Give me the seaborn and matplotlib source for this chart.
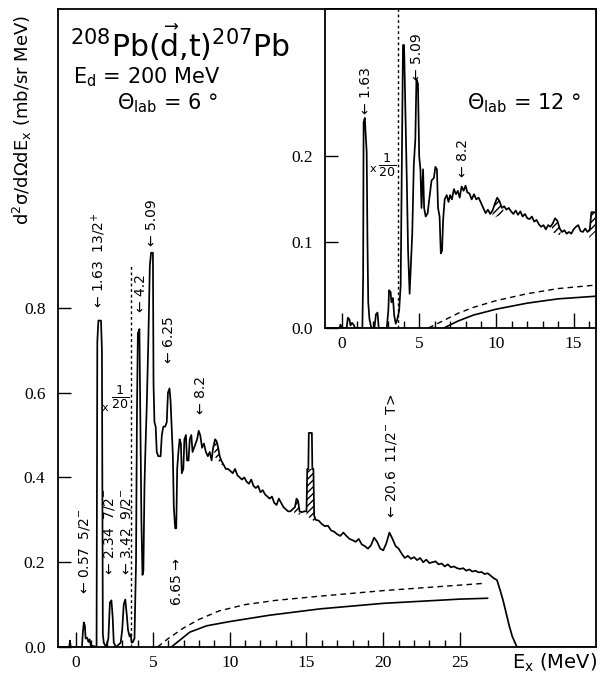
import numpy as np
import matplotlib
matplotlib.use("Agg")
import matplotlib.pyplot as plt
import seaborn as sns

# ---------------- data ----------------
# main spectrum, theta_lab = 6 deg  (E_x in MeV, d2sigma in mb/sr MeV; left of 3.6 MeV scaled x1/20)
main_ex = [-1.2, -0.45, -0.4, -0.35, 0.38, 0.43, 0.5, 0.57, 0.62, 0.72, 0.8, 0.88, 0.95, 1.33, 1.38, 1.45,
           1.62, 1.68, 1.74, 1.8, 1.95, 2.1, 2.2, 2.3, 2.38, 2.45, 2.6, 2.9, 3.0, 3.1, 3.2, 3.3, 3.38, 3.48,
           3.55, 3.62, 3.7, 3.8, 3.9, 3.96, 4.02, 4.12, 4.18, 4.25, 4.32, 4.38, 4.45, 4.5, 4.6, 4.7, 4.8,
           4.88, 5.0, 5.04, 5.1, 5.18, 5.25, 5.35, 5.5, 5.58, 5.68, 5.8, 5.9, 5.98, 6.08, 6.15, 6.22, 6.3,
           6.36, 6.45, 6.52, 6.58, 6.66, 6.74, 6.82, 6.88, 6.98, 7.05, 7.15, 7.22, 7.32, 7.4, 7.5, 7.58,
           7.68, 7.78, 7.88, 7.98, 8.08, 8.2, 8.32, 8.45, 8.58, 8.7, 8.82, 8.92, 9.05, 9.15, 9.25, 9.35,
           9.45, 9.6, 9.75, 9.9, 10.05, 10.2, 10.35, 10.5, 10.65, 10.8, 10.95, 11.1, 11.25, 11.4, 11.55,
           11.7, 11.85, 12.0, 12.15, 12.3, 12.45, 12.6, 12.75, 12.9, 13.05, 13.2, 13.35, 13.5, 13.65, 13.8,
           13.95, 14.1, 14.25, 14.35, 14.45, 14.55, 14.7, 14.85, 15.0, 15.05, 15.12, 15.15, 15.35, 15.38,
           15.45, 15.5, 15.6, 15.8, 16.0, 16.2, 16.4, 16.6, 16.8, 17.0, 17.2, 17.4, 17.6, 17.8, 18.0, 18.2,
           18.4, 18.6, 18.8, 19.0, 19.2, 19.4, 19.6, 19.8, 20.0, 20.2, 20.4, 20.6, 20.8, 21.0, 21.2, 21.4,
           21.6, 21.8, 22.0, 22.2, 22.4, 22.6, 22.8, 23.0, 23.2, 23.4, 23.6, 23.8, 24.0, 24.2, 24.4, 24.6,
           24.8, 25.0, 25.2, 25.4, 25.6, 25.8, 26.0, 26.2, 26.4, 26.6, 26.8, 27.0, 27.2, 27.4, 27.6, 27.8,
           28.0, 28.2, 28.4, 28.6, 28.7, 34.0]
main_xs = [0.0, 0.0, 0.015, 0.0, 0.0, 0.03, 0.058, 0.05, 0.02, 0.022, 0.012, 0.018, 0.004, 0.0, 0.72, 0.77,
           0.77, 0.7, 0.03, 0.01, 0.0, 0.02, 0.105, 0.11, 0.07, 0.01, 0.0, 0.01, 0.04, 0.1, 0.112, 0.075, 0.04,
           0.025, 0.03, 0.01, 0.012, 0.02, 0.2, 0.55, 0.74, 0.75, 0.55, 0.3, 0.17, 0.18, 0.38, 0.45, 0.57,
           0.72, 0.9, 0.93, 0.93, 0.62, 0.53, 0.52, 0.46, 0.45, 0.45, 0.5, 0.52, 0.52, 0.53, 0.6, 0.61, 0.58,
           0.52, 0.45, 0.33, 0.28, 0.28, 0.42, 0.46, 0.49, 0.48, 0.41, 0.42, 0.49, 0.5, 0.44, 0.44, 0.49,
           0.5, 0.46, 0.47, 0.48, 0.49, 0.51, 0.5, 0.47, 0.48, 0.46, 0.45, 0.46, 0.44, 0.47, 0.49, 0.485,
           0.47, 0.45, 0.44, 0.43, 0.42, 0.42, 0.415, 0.41, 0.42, 0.405, 0.4, 0.395, 0.4, 0.39, 0.385, 0.395,
           0.38, 0.375, 0.38, 0.365, 0.37, 0.36, 0.355, 0.35, 0.355, 0.34, 0.335, 0.35, 0.34, 0.33, 0.325,
           0.32, 0.32, 0.325, 0.33, 0.35, 0.345, 0.32, 0.318, 0.32, 0.32, 0.42, 0.42, 0.505, 0.505, 0.42,
           0.42, 0.31, 0.3, 0.298, 0.29, 0.285, 0.286, 0.275, 0.272, 0.266, 0.262, 0.27, 0.262, 0.255, 0.252,
           0.248, 0.255, 0.242, 0.238, 0.232, 0.24, 0.258, 0.248, 0.232, 0.228, 0.245, 0.27, 0.255, 0.238,
           0.232, 0.22, 0.21, 0.215, 0.208, 0.212, 0.205, 0.21, 0.2, 0.206, 0.198, 0.2, 0.202, 0.195, 0.197,
           0.19, 0.195, 0.188, 0.19, 0.186, 0.184, 0.186, 0.18, 0.183, 0.178, 0.18, 0.176, 0.177, 0.172,
           0.174, 0.168, 0.162, 0.158, 0.135, 0.11, 0.08, 0.05, 0.025, 0.008, 0.0, 0.0]

# background estimates (main)
main_bg_dash_ex = [5.3, 6.0, 7.0, 8.0, 9.3, 11.0, 13.0, 15.9, 20.0, 25.0, 26.5]
main_bg_dash = [0.0, 0.02, 0.045, 0.065, 0.085, 0.1, 0.11, 0.12, 0.133, 0.146, 0.15]
main_bg_solid_ex = [6.2, 7.4, 8.5, 10.0, 12.6, 15.9, 20.0, 25.0, 26.8]
main_bg_solid = [0.0, 0.035, 0.05, 0.06, 0.075, 0.09, 0.103, 0.113, 0.115]

# inset spectrum, theta_lab = 12 deg
inset_ex = [-1.1, -0.15, -0.1, 0.0, 0.3, 0.38, 0.48, 0.55, 0.65, 0.75, 0.85, 1.32, 1.37, 1.4, 1.48, 1.52,
            1.6, 1.65, 1.7, 1.78, 1.9, 2.1, 2.2, 2.3, 2.38, 2.9, 3.0, 3.05, 3.15, 3.2, 3.3, 3.38, 3.48, 3.58,
            3.7, 3.8, 3.88, 3.95, 4.02, 4.1, 4.2, 4.28, 4.38, 4.45, 4.55, 4.65, 4.75, 4.82, 4.92, 5.0, 5.08,
            5.15, 5.25, 5.32, 5.42, 5.55, 5.65, 5.8, 5.95, 6.05, 6.15, 6.22, 6.32, 6.4, 6.48, 6.55, 6.65,
            6.78, 6.9, 7.0, 7.12, 7.25, 7.38, 7.5, 7.62, 7.75, 7.88, 8.0, 8.12, 8.25, 8.4, 8.55, 8.7, 8.85,
            9.0, 9.15, 9.3, 9.45, 9.6, 9.75, 9.9, 10.05, 10.2, 10.35, 10.5, 10.65, 10.8, 10.95, 11.1, 11.25,
            11.4, 11.55, 11.7, 11.85, 12.0, 12.15, 12.3, 12.45, 12.6, 12.75, 12.9, 13.05, 13.2, 13.35, 13.5,
            13.65, 13.8, 13.95, 14.1, 14.25, 14.4, 14.55, 14.7, 14.85, 15.0, 15.15, 15.3, 15.45, 15.6, 15.75,
            15.9, 16.05, 16.15, 16.4]
inset_xs = [0.0, 0.0, 0.004, 0.0, 0.0, 0.012, 0.01, 0.003, 0.006, 0.004, 0.0, 0.0, 0.06, 0.24, 0.245, 0.23,
            0.205, 0.1, 0.03, 0.01, 0.0, 0.0, 0.016, 0.018, 0.0, 0.0, 0.02, 0.044, 0.042, 0.03, 0.035, 0.015,
            0.005, 0.01, 0.02, 0.05, 0.2, 0.33, 0.33, 0.26, 0.17, 0.09, 0.04, 0.07, 0.11, 0.19, 0.22, 0.29,
            0.285, 0.2, 0.185, 0.14, 0.185, 0.14, 0.13, 0.134, 0.15, 0.172, 0.175, 0.188, 0.185, 0.14, 0.13,
            0.087, 0.09, 0.126, 0.15, 0.155, 0.147, 0.155, 0.15, 0.162, 0.156, 0.16, 0.152, 0.165, 0.16, 0.166,
            0.158, 0.157, 0.15, 0.156, 0.15, 0.152, 0.146, 0.14, 0.134, 0.138, 0.133, 0.137, 0.145, 0.152,
            0.148, 0.14, 0.142, 0.138, 0.14, 0.136, 0.133, 0.137, 0.132, 0.136, 0.13, 0.133, 0.128, 0.127,
            0.13, 0.124, 0.126, 0.121, 0.118, 0.12, 0.115, 0.12, 0.118, 0.122, 0.128, 0.125, 0.116, 0.112,
            0.114, 0.11, 0.112, 0.11, 0.115, 0.118, 0.12, 0.113, 0.112, 0.116, 0.112, 0.115, 0.135, 0.135]

inset_bg_dash_ex = [5.6, 6.5, 7.5, 8.5, 10.0, 12.0, 14.0, 16.4]
inset_bg_dash = [0.0, 0.008, 0.017, 0.024, 0.032, 0.04, 0.046, 0.05]
inset_bg_solid_ex = [6.6, 7.5, 8.5, 10.0, 12.0, 14.0, 16.4]
inset_bg_solid = [0.0, 0.008, 0.015, 0.022, 0.029, 0.034, 0.037]

# hatched contaminant regions: (E_start, E_end, base_start, base_end, cap)
main_hatch = [(9.0, 9.6, 0.45, 0.425, 1.0), (14.2, 14.6, 0.315, 0.312, 1.0), (15.0, 15.55, 0.31, 0.295, 0.42)]
inset_hatch = [(9.75, 10.45, 0.128, 0.133, 1.0), (13.6, 14.15, 0.112, 0.108, 1.0), (16.0, 16.4, 0.105, 0.112, 1.0)]

scale_break_main = 3.6
scale_break_main_top = 0.9
scale_break_inset = 3.64

# state labels (text, E, y-bottom)
main_labels = [("← 0.57  5/2$^{-}$", 0.52, 0.125),
               ("← 1.63  13/2$^{+}$", 1.5, 0.8),
               ("← 2.34  7/2$^{-}$", 2.15, 0.17),
               ("← 3.42  9/2$^{-}$", 3.25, 0.17),
               ("← 4.2", 4.24, 0.79),
               ("← 5.09", 4.96, 0.945),
               ("← 6.25", 6.07, 0.67),
               ("← 8.2", 8.15, 0.55),
               ("6.65 →", 6.6, 0.1),
               ("← 20.6  11/2$^{-}$  T>", 20.56, 0.305)]
inset_labels = [("← 1.63", 1.56, 0.25), ("← 5.09", 4.87, 0.289), ("← 8.2", 7.85, 0.176)]

main_xticks = [0, 5, 10, 15, 20, 25]
main_yticks = [0.0, 0.2, 0.4, 0.6, 0.8]
inset_xticks = [0, 5, 10, 15]
inset_yticks = [0.0, 0.1, 0.2]

# ---------------- drawing ----------------
sns.set_theme(style="white")
plt.rcParams.update({
    "font.family": ["DejaVu Sans"],
    "text.color": "black",
    "axes.labelcolor": "black",
    "axes.edgecolor": "black",
    "axes.linewidth": 1.3,
    "hatch.linewidth": 1.0,
    "xtick.color": "black",
    "ytick.color": "black",
})

W, H = 600, 677
fig = plt.figure(figsize=(6.0, 6.77), dpi=100)
fig.patch.set_facecolor("white")


def fx(px):
    return px / W


def fy(py):
    return 1 - py / H


def style_axes(ax, xt, yt, xminor, ylabels_fmt):
    ax.set_facecolor("white")
    for s in ax.spines.values():
        s.set_visible(True)
        s.set_color("black")
        s.set_linewidth(1.3)
    ax.set_xticks(xt)
    ax.set_xticks(xminor, minor=True)
    ax.set_yticks(yt)
    ax.set_xticklabels([str(t) for t in xt])
    ax.set_yticklabels([ylabels_fmt.format(t) for t in yt])
    ax.tick_params(axis="x", which="major", direction="in", length=11, width=1.0, pad=6,
                   labelsize=12.5, labelcolor="black", bottom=True, top=False)
    ax.tick_params(axis="x", which="minor", direction="in", length=5, width=1.0, bottom=True, top=False)
    ax.tick_params(axis="y", which="major", direction="in", length=9, width=1.0, pad=9,
                   labelsize=12.5, labelcolor="black", left=True, right=False)
    for lbl in ax.get_xticklabels() + ax.get_yticklabels():
        lbl.set_fontfamily("Liberation Serif")
    ax.set_xlabel("")
    ax.set_ylabel("")
    ax.grid(False)


def hatch_regions(ax, ex, ys, regions):
    ex = np.asarray(ex)
    ys = np.asarray(ys)
    for e0, e1, b0, b1, cap in regions:
        inside = ex[(ex > e0) & (ex < e1)]
        grid = np.concatenate([[e0], inside, [e1]])
        top = np.minimum(np.interp(grid, ex, ys), cap)
        base = np.interp(grid, [e0, e1], [b0, b1])
        ax.fill_between(grid, base, top, where=top >= base, facecolor="none", edgecolor="black",
                        hatch="/////", linewidth=0, zorder=2)


# main axes
ax = fig.add_axes([fx(58), fy(647), (596 - 58) / W, (647 - 9) / H])
ax.set_xlim(-1.18, 33.85)
ax.set_ylim(0, 1.505)
sns.lineplot(x=main_ex, y=main_xs, ax=ax, sort=False, estimator=None, color="black", lw=1.25, zorder=3)
sns.lineplot(x=main_bg_dash_ex, y=main_bg_dash, ax=ax, sort=False, estimator=None, color="black",
             lw=1.0, linestyle=(0, (4, 3)))
sns.lineplot(x=main_bg_solid_ex, y=main_bg_solid, ax=ax, sort=False, estimator=None, color="black", lw=1.2)
hatch_regions(ax, main_ex, main_xs, main_hatch)
ax.plot([scale_break_main, scale_break_main], [0, scale_break_main_top], color="black", lw=1.0,
        linestyle=(0, (2, 2)))
style_axes(ax, main_xticks, main_yticks, list(range(0, 26)), "{:.1f}")
for txt, e, yb in main_labels:
    ax.text(e, yb, txt, rotation=90, ha="center", va="bottom", fontsize=10, color="black")
ax.text(1.9, 0.563, "x", fontsize=8, ha="center", va="center")
ax.text(2.87, 0.59, r"$\frac{1}{20}$", fontsize=13, ha="center", va="center")

# inset axes
ax2 = fig.add_axes([fx(325), fy(328), (596 - 325) / W, (328 - 9) / H])
ax2.set_zorder(5)
ax2.set_xlim(-1.1, 16.45)
ax2.set_ylim(0, 0.372)
sns.lineplot(x=inset_ex, y=inset_xs, ax=ax2, sort=False, estimator=None, color="black", lw=1.25, zorder=3)
sns.lineplot(x=inset_bg_dash_ex, y=inset_bg_dash, ax=ax2, sort=False, estimator=None, color="black",
             lw=1.0, linestyle=(0, (4, 3)))
sns.lineplot(x=inset_bg_solid_ex, y=inset_bg_solid, ax=ax2, sort=False, estimator=None, color="black", lw=1.2)
hatch_regions(ax2, inset_ex, inset_xs, inset_hatch)
ax2.plot([scale_break_inset, scale_break_inset], [0, 0.372], color="black", lw=1.0, linestyle=(0, (2, 2)))
style_axes(ax2, inset_xticks, inset_yticks, list(range(0, 17)), "{:.1f}")
for txt, e, yb in inset_labels:
    ax2.text(e, yb, txt, rotation=90, ha="center", va="bottom", fontsize=10, color="black")
ax2.text(2.0, 0.186, "x", fontsize=8, ha="center", va="center")
ax2.text(2.92, 0.19, r"$\frac{1}{20}$", fontsize=13, ha="center", va="center")
ax2.text(8.1, 0.262, "Θ$_{\\rm lab}$ = 12 °", fontsize=15, ha="left", va="center")

# figure texts
fig.text(fx(70), fy(43), r"$^{208}$Pb($\vec{\rm d}$,t)$^{207}$Pb", fontsize=21.5, ha="left", va="center")
fig.text(fx(73), fy(77), "E$_{\\rm d}$ = 200 MeV", fontsize=15, ha="left", va="center")
fig.text(fx(117), fy(103), "Θ$_{\\rm lab}$ = 6 °", fontsize=15, ha="left", va="center")
fig.text(fx(22), fy(120), "d$^{2}$σ/dΩdE$_{\\rm x}$ (mb/sr MeV)", rotation=90, fontsize=13,
         ha="center", va="center")
fig.text(fx(597), fy(663), "E$_{\\rm x}$ (MeV)", fontsize=14, ha="right", va="center")

fig.savefig("out.png", dpi=100, facecolor="white")
